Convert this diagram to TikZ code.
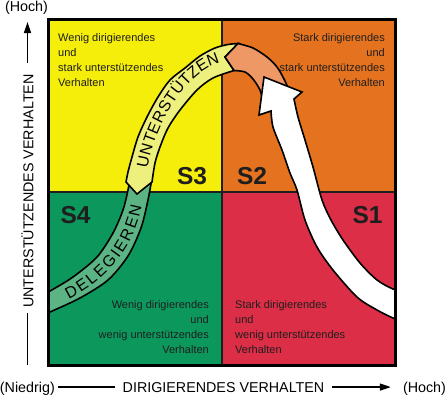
\documentclass[tikz,border=0pt]{standalone}
\usepackage{fontspec}
\setmainfont{Liberation Sans}
\usetikzlibrary{arrows.meta}
\definecolor{qyellow}{RGB}{245,237,10}
\definecolor{qorange}{RGB}{228,114,30}
\definecolor{qgreen}{RGB}{12,152,92}
\definecolor{qred}{RGB}{220,46,70}
\definecolor{byellow}{RGB}{238,240,125}
\definecolor{bgreen}{RGB}{92,180,132}
\definecolor{bsalmon}{RGB}{238,152,102}
\definecolor{ink}{RGB}{30,30,30}
\begin{document}
\begin{tikzpicture}[x=1pt,y=-1pt,
  band/.style={draw=black, line width=1.6pt},
  qtext/.style={font=\fontsize{11}{15}\selectfont, inner sep=0pt, text=ink},
  slabel/.style={font=\fontsize{24.5}{24.5}\selectfont\bfseries, inner sep=0pt, text=ink},
  axislabel/.style={font=\fontsize{14.3}{16}\selectfont, inner sep=0pt},
  axisline/.style={line width=1.4pt},
  axisarrow/.style={line width=1.4pt, -{Triangle[length=11pt,width=7pt]}},
  bl/.style={font=\fontsize{16}{16}\selectfont, inner sep=0pt, sloped, allow upside down, anchor=center, text height=11.5pt, text depth=0pt, text=black},
]
\useasboundingbox (0,0) rectangle (447,400);
\fill[white] (0,0) rectangle (447,400);

% quadrants
\fill[qyellow] (48,19) rectangle (222,192);
\fill[qorange] (222,19) rectangle (396,192);
\fill[qgreen] (48,192) rectangle (222,366);
\fill[qred] (222,192) rectangle (396,366);
\draw[line width=1.3pt, ink] (222,19) -- (222,366);
\draw[line width=1.3pt, ink] (48,192) -- (396,192);

% quadrant texts
\node[qtext, anchor=north west, align=left] (tl) at (58,33.6) {Wenig dirigierendes\\und\\stark unterstützendes\\Verhalten};
\node[qtext, anchor=north east, align=right] (tr) at (385,33.6) {Stark dirigierendes\\und\\stark unterstützendes\\Verhalten};
\node[qtext, anchor=north east, align=right] (bl) at (209,300.6) {Wenig dirigierendes\\und\\wenig unterstützendes\\Verhalten};
\node[qtext, anchor=north west, align=left] (br) at (235,300.6) {Stark dirigierendes\\und\\wenig unterstützendes\\Verhalten};

% style labels
\node[slabel] (s3) at (192,176) {S3};
\node[slabel] (s2) at (252,176) {S2};
\node[slabel] (s4) at (75.5,215.5) {S4};
\node[slabel] (s1) at (367.5,215.5) {S1};

% bands
\begin{scope}
\clip (48.5,19.5) rectangle (395.5,365.5);
\draw[band, fill=bgreen] plot[smooth] coordinates {(40,296) (50,291) (73,277) (97,257) (113,233) (123,210) (128,190) (130,178)}
  -- (152,178) -- plot[smooth] coordinates {(152,178) (148,200) (141,228) (128,256) (108,280) (80,298) (50,312) (40,316)} -- cycle;
\draw[band, fill=byellow] (126,182) -- (137,194) -- (152,182)
  -- plot[smooth] coordinates {(152,182) (155,163) (160,147) (168,128) (180,110) (197,90) (213,78) (234,70.5)}
  -- (225,57) -- (238,43.5)
  -- plot[smooth] coordinates {(238,43.5) (228,44.5) (215,48) (200,56) (185,68) (170,80) (158,97) (147,117) (138,137) (132,157) (128,172) (126,182)} -- cycle;
\draw[band, fill=bsalmon] (238,43.5) -- (225,57) -- (234,70.5)
  -- plot[smooth] coordinates {(234,70.5) (245,72) (253,79) (260,90) (263,101)}
  -- (289,90) -- plot[smooth] coordinates {(289,90) (284,79) (277,67) (267,57) (253,48) (238,43.5)} -- cycle;
\draw[band, fill=white] (264,77) -- (302,92) -- (294,99)
  -- plot[smooth] coordinates {(294,99) (298,117) (305,140) (313,167) (322,200) (331,220) (343,240) (360,263) (377,280) (393,289) (405,292)}
  -- (405,322) -- plot[smooth] coordinates {(405,322) (393,318) (377,310) (357,297) (333,270) (317,247) (305,220) (297,190) (290,173) (282,150) (273,127) (271,111)}
  -- (259,115) -- cycle;
\end{scope}

% band lettering
\path (66,294) .. controls (96,279) and (128,250) .. (136,205)
  node[bl, pos=.0562] (d1) {D} node[bl, pos=.1767] (d2) {E}
  node[bl, pos=.2806] (d3) {L} node[bl, pos=.3818] (d4) {E}
  node[bl, pos=.4959] (d5) {G} node[bl, pos=.5809] (d6) {I}
  node[bl, pos=.6571] (d7) {E} node[bl, pos=.7605] (d8) {R}
  node[bl, pos=.8607] (d9) {E} node[bl, pos=.9573] (d10) {N};
\path (141,173) .. controls (147,125) and (182,66) .. (218,58)
  node[bl, pos=.0785] (u1) {U} node[bl, pos=.1597] (u2) {N}
  node[bl, pos=.2334] (u3) {T} node[bl, pos=.3035] (u4) {E}
  node[bl, pos=.3789] (u5) {R} node[bl, pos=.4551] (u6) {S}
  node[bl, pos=.5268] (u7) {T} node[bl, pos=.6031] (u8) {Ü}
  node[bl, pos=.6835] (u9) {T} node[bl, pos=.7618] (u10) {Z}
  node[bl, pos=.8484] (u11) {E} node[bl, pos=.9494] (u12) {N};

% frame
\draw[line width=3pt] (48.5,19.5) rectangle (395.5,365.5);

% axes
\node[axislabel, rotate=90] (ylab) at (27.5,191) {UNTERSTÜTZENDES VERHALTEN};
\node[axislabel, anchor=base] (hochy) at (26.5,11.8) {(Hoch)};
\coordinate (ytop) at (27.5,22);
\coordinate (ybot) at (27.5,365);
\draw[axisarrow, shorten <=11pt] (ylab.east) -- (ytop);
\draw[axisline, shorten <=5pt] (ylab.west) -- (ybot);

\node[axislabel, anchor=base] (nied) at (27.4,392) {(Niedrig)};
\node[axislabel, anchor=base] (xlab) at (223.5,392) {DIRIGIERENDES VERHALTEN};
\node[axislabel, anchor=base] (hochx) at (424.5,392) {(Hoch)};
\draw[axisline, shorten <=3pt, shorten >=8pt] (nied.east |- xlab) -- (xlab.west);
\draw[axisarrow, shorten <=8pt, shorten >=12pt] (xlab.east) -- (hochx.west |- xlab);
\end{tikzpicture}
\end{document}
